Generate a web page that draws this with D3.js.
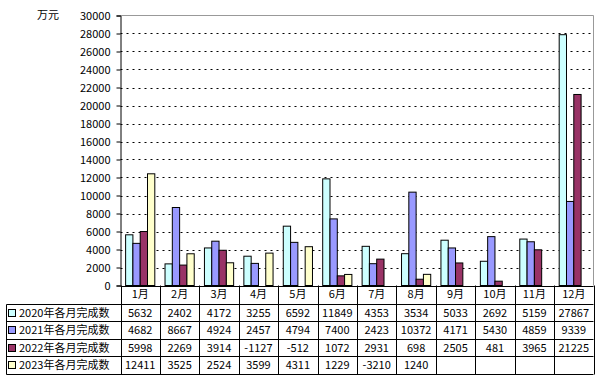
<!DOCTYPE html>
<html>
<head>
<meta charset="utf-8">
<script src="https://cdn.jsdelivr.net/npm/d3@7"></script>
<style>
body { margin: 0; background: #fff; }
text { font-family: "Noto Sans CJK SC", "DejaVu Sans", sans-serif; font-size: 11px; fill: #000; }
</style>
</head>
<body>
<svg id="chart" width="599" height="378"></svg>
<script>
// Months and series (万元)
var months = ["1月", "2月", "3月", "4月", "5月", "6月", "7月", "8月", "9月", "10月", "11月", "12月"];
var seriesNames = ["2020年各月完成数", "2021年各月完成数", "2022年各月完成数", "2023年各月完成数"];
var colors = ["#CCFFFF", "#9999FF", "#993366", "#FFFFCC"];

var v2020 = [5632, 2402, 4172, 3255, 6592, 11849, 4353, 3534, 5033, 2692, 5159, 27867];
var v2021 = [4682, 8667, 4924, 2457, 4794, 7400, 2423, 10372, 4171, 5430, 4859, 9339];
var v2022 = [5998, 2269, 3914, -1127, -512, 1072, 2931, 698, 2505, 481, 3965, 21225];
var v2023 = [12411, 3525, 2524, 3599, 4311, 1229, -3210, 1240, null, null, null, null];
var series = [v2020, v2021, v2022, v2023];

var yTicks = d3.range(0, 30001, 2000);

var svg = d3.select("#chart");
var pLeft = 120.5, pRight = 593.5, pTop = 15.5, pBottom = 285.5;

var x0 = d3.scaleBand().domain(months).range([pLeft, pRight]).padding(0);
var x1 = d3.scaleBand().domain(d3.range(4)).range([0, x0.bandwidth()]).paddingInner(0).paddingOuter(0.7);
var y = d3.scaleLinear().domain([0, 30000]).range([pBottom, pTop]);

// gridlines
svg.append("g").selectAll("line")
	.data(yTicks.filter(function(d) { return d > 0 && d < 30000; }))
	.join("line")
	.attr("x1", pLeft).attr("x2", pRight)
	.attr("y1", function(d) { return Math.round(y(d)) + 0.5; })
	.attr("y2", function(d) { return Math.round(y(d)) + 0.5; })
	.attr("stroke", "#000")
	.attr("stroke-dasharray", "2,4");

// plot border (top and right gray)
svg.append("path")
	.attr("d", "M" + pLeft + "," + pTop + "H" + pRight + "V" + pBottom)
	.attr("fill", "none")
	.attr("stroke", "#999");

// bars (negatives clipped at 0, so not drawn)
var groups = svg.append("g").selectAll("g")
	.data(months)
	.join("g")
	.attr("transform", function(d) { return "translate(" + x0(d) + ",0)"; });

groups.selectAll("rect")
	.data(function(m, i) {
		return series.map(function(s, k) { return { k: k, v: s[i] }; })
			.filter(function(d) { return d.v != null && d.v > 0; });
	})
	.join("rect")
	.attr("x", function(d) { return x1(d.k); })
	.attr("width", x1.bandwidth())
	.attr("y", function(d) { return y(d.v); })
	.attr("height", function(d) { return pBottom - y(d.v); })
	.attr("fill", function(d) { return colors[d.k]; })
	.attr("stroke", "#000")
	.attr("stroke-width", 1);

// y axis
var yAxis = d3.axisLeft(y).tickValues(yTicks).tickSize(4).tickFormat(d3.format("d"));
var ya = svg.append("g")
	.attr("transform", "translate(" + pLeft + ",0)")
	.call(yAxis);
ya.select(".domain").attr("stroke", "#000");
ya.selectAll("text").attr("font-size", 11).attr("font-family", "Noto Sans CJK SC").attr("x", -10);

svg.append("text")
	.attr("x", 37).attr("y", 19)
	.text("万元");

// data table
var rowH = 17.5;
var headBot = 303.5;
var table = svg.append("g");

// header month labels
table.selectAll("text.m")
	.data(months)
	.join("text")
	.attr("class", "m")
	.attr("x", function(d) { return x0(d) + x0.bandwidth() / 2; })
	.attr("y", 298)
	.attr("text-anchor", "middle")
	.text(function(d) { return d; });

// horizontal lines
var hLines = [pBottom, headBot, headBot + rowH, headBot + 2 * rowH, headBot + 3 * rowH, headBot + 4 * rowH];
table.selectAll("line.h")
	.data(hLines)
	.join("line")
	.attr("x1", function(d, i) { return i == 0 ? pLeft : 6.5; })
	.attr("x2", pRight)
	.attr("y1", function(d) { return Math.round(d) + 0.5; })
	.attr("y2", function(d) { return Math.round(d) + 0.5; })
	.attr("stroke", "#000");

// vertical lines
var vx = months.map(function(m) { return x0(m); }).concat([pRight]);
table.selectAll("line.v")
	.data(vx)
	.join("line")
	.attr("x1", function(d) { return Math.round(d) + 0.5; })
	.attr("x2", function(d) { return Math.round(d) + 0.5; })
	.attr("y1", pBottom)
	.attr("y2", Math.round(headBot + 4 * rowH) + 0.5)
	.attr("stroke", "#000");

table.append("line")
	.attr("x1", 6.5).attr("x2", 6.5)
	.attr("y1", Math.round(headBot) + 0.5)
	.attr("y2", Math.round(headBot + 4 * rowH) + 0.5)
	.attr("stroke", "#000");

// legend cells + values
seriesNames.forEach(function(name, k) {
	var ry = headBot + k * rowH;
	table.append("rect")
		.attr("x", 8.5).attr("y", Math.round(ry) + 5.5)
		.attr("width", 7).attr("height", 7)
		.attr("fill", colors[k])
		.attr("stroke", "#000");
	table.append("text")
		.attr("x", 19).attr("y", ry + 13)
		.attr("font-size", 11.5)
		.text(name);
	table.selectAll("text.v" + k)
		.data(series[k].map(function(v, i) { return { v: v, m: months[i] }; }).filter(function(d) { return d.v != null; }))
		.join("text")
		.attr("x", function(d) { return x0(d.m) + x0.bandwidth() / 2; })
		.attr("y", ry + 13)
		.attr("text-anchor", "middle")
		.text(function(d) { return d.v; });
});
</script>
</body>
</html>
